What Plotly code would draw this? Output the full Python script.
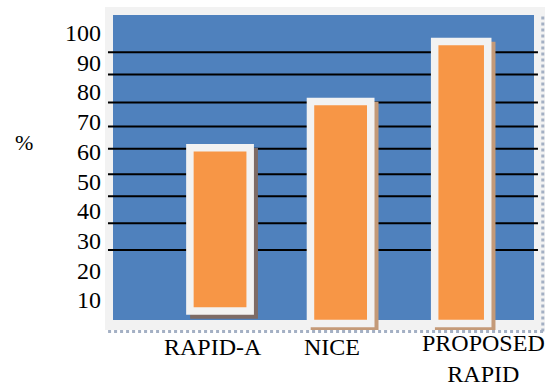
import plotly.graph_objects as go

# ---- data ----
categories = ["RAPID-A", "NICE", "PROPOSED<br>RAPID"]
bar_top = [61.3, 76.8, 97.0]      # % (top edge of each bar)
bar_base = [6.3, 2.1, 2.1]        # % (bottom edge of each bar)
tick_values = [10, 20, 30, 40, 50, 60, 70, 80, 90, 100]
tick_labels = ["10", "20", "30", "40", "50", "60", "70", "80", "90", "100"]
line_levels = [26.8, 35.8, 44.9, 52.3, 60.9, 68.4, 76.5, 85.9, 93.4]  # black horizontal lines

# ---- styling ----
FONT = "Liberation Serif, Times New Roman, serif"
BLUE = "#4F81BD"
ORANGE = "#F79646"
FRAME = "#F2F2F2"
widths = [0.50, 0.50, 0.44]
px_per_cat = 120.6
px_per_val = 2.97
shift_x = 4 / px_per_cat
shift_y = 4 / px_per_val

xpos = list(range(len(categories)))
heights = [t - b for t, b in zip(bar_top, bar_base)]

fig = go.Figure()

# shadow
fig.add_trace(go.Bar(
    x=xpos, y=heights, base=[b - shift_y for b in bar_base],
    width=widths, offset=[-w / 2 + shift_x for w in widths],
    marker=dict(color=["#7d6b66", "#c49a78", "#c49a78"],
                line=dict(color=["#7d6b66", "#c49a78", "#c49a78"], width=7.5)),
    hoverinfo="skip", showlegend=False,
))
# bars
fig.add_trace(go.Bar(
    x=xpos, y=heights, base=bar_base,
    width=widths, offset=[-w / 2 for w in widths],
    marker=dict(color=ORANGE, line=dict(color=FRAME, width=7.5)),
    showlegend=False,
))

shapes = [
    dict(type="rect", xref="paper", yref="paper", x0=0.0182, x1=0.975, y0=0.031, y1=0.975,
         fillcolor=BLUE, line=dict(width=0), layer="below"),
]
for lv in line_levels:
    shapes.append(dict(type="line", xref="paper", yref="y", x0=0.0068, x1=0.984, y0=lv, y1=lv,
                       line=dict(color="black", width=2), layer="below"))
# frame edges
shapes.append(dict(type="line", xref="paper", yref="paper", x0=0.007, x1=1.0, y0=-0.005, y1=-0.005,
                   line=dict(color="#a4b0c4", width=3, dash="dot")))
shapes.append(dict(type="line", xref="paper", yref="paper", x0=0.995, x1=0.995, y0=-0.005, y1=0.975,
                   line=dict(color="#a4b0c4", width=3, dash="dot")))

annotations = [
    dict(text="%", xref="paper", yref="paper", x=-0.21, y=0.579, showarrow=False,
         font=dict(family=FONT, size=22, color="black")),
]
label_shift = [-7, -9, 22]
label_yshift = [-17, -17, -28]
for i, c in enumerate(categories):
    annotations.append(dict(text=c, x=xpos[i], xref="x", y=0, yref="paper", showarrow=False,
                            xanchor="center", yanchor="middle",
                            xshift=label_shift[i], yshift=label_yshift[i],
                            font=dict(family=FONT, size=24, color="black")))

fig.update_layout(
    width=547, height=386,
    margin=dict(l=105, r=2, t=7, b=56),
    paper_bgcolor="white", plot_bgcolor=FRAME,
    barmode="overlay",
    shapes=shapes, annotations=annotations,
    xaxis=dict(range=[-0.954, 2.695], showticklabels=False, showgrid=False, zeroline=False,
               showline=False, fixedrange=True),
    yaxis=dict(range=[-0.1, 108.65], tickvals=tick_values, ticktext=tick_labels,
               showgrid=False, zeroline=False, showline=False, ticks="",
               ticklabelstandoff=3,
               tickfont=dict(family=FONT, size=24, color="black")),
)

fig.write_html("out.html")
